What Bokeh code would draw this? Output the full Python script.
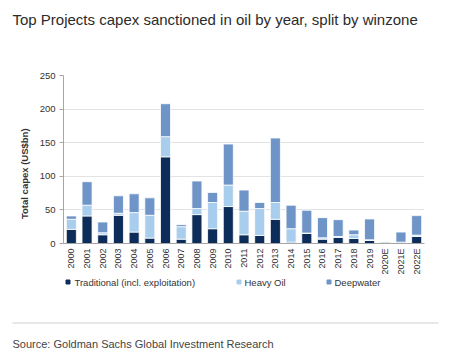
from math import pi
from bokeh.plotting import figure
from bokeh.layouts import column, row
from bokeh.models import ColumnDataSource, Range1d
from bokeh.core.properties import value
from bokeh.embed import file_html
from bokeh.resources import INLINE

years = ["2000", "2001", "2002", "2003", "2004", "2005", "2006", "2007", "2008", "2009",
         "2010", "2011", "2012", "2013", "2014", "2015", "2016", "2017", "2018", "2019",
         "2020E", "2021E", "2022E"]
traditional = [21, 41, 13, 42, 17, 8, 129, 6.5, 43, 22, 55, 13, 12, 36, 2, 15, 6.5, 9, 7.5, 4.5, 0, 0.5, 10.5]
heavy_oil = [15, 16, 3, 3, 29, 34, 30, 18.5, 9, 39, 32, 35, 40, 25, 20, 0.5, 2, 1.5, 5.5, 1, 0.5, 1.5, 2]
deepwater = [5, 35, 16, 26, 28, 26, 49, 3, 41, 15, 61, 31.5, 9, 96, 35, 34, 30, 25, 7, 31, 1.5, 15, 29]
series_names = ["Traditional (incl. exploitation)", "Heavy Oil", "Deepwater"]
y_ticks = [0, 50, 100, 150, 200, 250]
title_text = "Top Projects capex sanctioned in oil by year, split by winzone"
source_text = "Source: Goldman Sachs Global Investment Research"
y_label = "Total capex (US$bn)"

colors = ["#0C2D5A", "#A9CDED", "#6F95C8"]
keys = ["traditional", "heavy", "deep"]
src = ColumnDataSource(dict(years=years, traditional=traditional, heavy=heavy_oil, deep=deepwater))

W = 450
TOP_H, MID_H, FOOT_H = 30, 248, 75
YLAB_W = 36
FRAME_TOP, FRAME_H = 45, 168
FONT = "Liberation Sans"


def blank(w, h):
    f = figure(width=w, height=h, x_range=Range1d(0, w), y_range=Range1d(h, 0),
               x_axis_type=None, y_axis_type=None,
               output_backend="svg", toolbar_location=None,
               min_border_left=0, min_border_right=0,
               min_border_top=0, min_border_bottom=0)
    f.grid.visible = False
    f.outline_line_color = None
    f.background_fill_color = "white"
    f.border_fill_color = "white"
    return f


# ---- title strip
top = blank(W, TOP_H)
top.text(x=[12], y=[19], text=[title_text], text_baseline="alphabetic",
         text_font=value(FONT), text_font_size="15px", text_color="#2B2B2B")

# ---- y-axis title strip
ylab = blank(YLAB_W, MID_H)
ylab.text(x=[23.5], y=[145], text=[y_label], angle=pi / 2, text_align="center",
          text_baseline="middle", text_font=value(FONT), text_font_style="bold",
          text_font_size="9.5px", text_color="#333333")

# ---- chart
p = figure(x_range=years, y_range=(0, 250), width=W - YLAB_W, height=MID_H,
           output_backend="svg", toolbar_location=None,
           min_border_left=63 - YLAB_W, min_border_right=26,
           min_border_top=FRAME_TOP, min_border_bottom=MID_H - FRAME_TOP - FRAME_H)
p.outline_line_color = None
p.background_fill_color = "white"
p.border_fill_color = "white"

rs = p.vbar_stack(keys, x="years", width=0.64, source=src, color=colors,
                  line_color="white", line_width=0.8)

p.yaxis.ticker = y_ticks
p.yaxis.axis_line_color = "#A6A6A6"
p.yaxis.major_tick_line_color = "#A6A6A6"
p.yaxis.major_tick_out = 4
p.yaxis.major_tick_in = 0
p.yaxis.minor_tick_line_color = None
p.yaxis.major_label_text_font = FONT
p.yaxis.major_label_text_font_size = "9.5px"
p.yaxis.major_label_text_color = "#333333"
p.yaxis.major_label_standoff = 4

p.xaxis.axis_line_color = "#A6A6A6"
p.xaxis.major_tick_line_color = None
p.xaxis.major_tick_out = 0
p.xaxis.major_tick_in = 0
p.xaxis.minor_tick_line_color = None
p.xaxis.major_label_orientation = pi / 2
p.xaxis.major_label_text_font = FONT
p.xaxis.major_label_text_font_size = "9px"
p.xaxis.major_label_text_color = "#333333"
p.xaxis.major_label_standoff = 5

p.xgrid.grid_line_color = None
p.ygrid.grid_line_color = "#E3E3E3"
p.ygrid.grid_line_width = 1

# ---- footer: legend, separator, source
foot = blank(W, FOOT_H)
legend_marker_x = [67.5, 238.5, 328.5]
legend_text_x = [74, 244, 334]
foot.rect(x=legend_marker_x, y=[3.5] * 3, width=4, height=4, color=colors)
foot.text(x=legend_text_x, y=[3.5] * 3, text=series_names, text_baseline="middle",
          text_font=value(FONT), text_font_size="9.5px", text_color="#333333")

foot.segment(x0=[12], y0=[44.5], x1=[438], y1=[44.5], line_color="#CFCFCF", line_width=1)
foot.text(x=[12], y=[65], text=[source_text], text_baseline="alphabetic",
          text_font=value(FONT), text_font_size="11px", text_color="#444444")

layout = column(top, row(ylab, p, spacing=0), foot, spacing=0)
open("out.html", "w").write(file_html(layout, INLINE))
